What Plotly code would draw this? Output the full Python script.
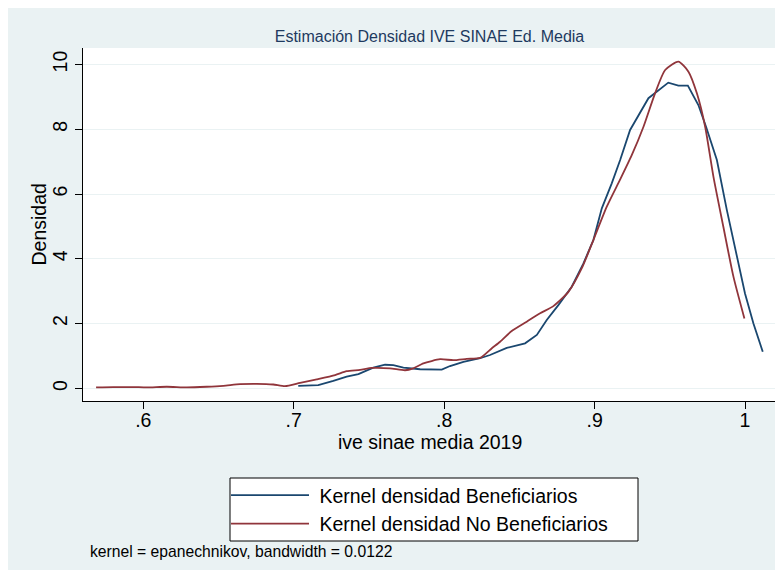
import plotly.graph_objects as go

# densities
benef_x = [0.703, 0.7163, 0.7263, 0.7352, 0.743, 0.7529, 0.7607, 0.7662, 0.7729, 0.784,
           0.7984, 0.8039, 0.8128, 0.8239, 0.8305, 0.8416, 0.8538, 0.8616, 0.8682, 0.8759,
           0.8848, 0.8926, 0.8992, 0.9048, 0.9114, 0.917, 0.9236, 0.9358, 0.949, 0.9557,
           0.962, 0.969, 0.9741, 0.9813, 0.9879, 0.9946, 1.0, 1.0056, 1.0118]
benef_y = [0.08, 0.10, 0.23, 0.36, 0.44, 0.64, 0.73, 0.72, 0.64, 0.59,
           0.58, 0.69, 0.82, 0.93, 1.03, 1.25, 1.39, 1.65, 2.11, 2.57,
           3.14, 3.86, 4.58, 5.56, 6.33, 7.05, 7.98, 8.96, 9.44, 9.35,
           9.35, 8.75, 8.08, 7.05, 5.51, 4.07, 2.93, 2.0, 1.13]

nobenef_x = [0.5686, 0.58, 0.5934, 0.6023, 0.6156, 0.6289, 0.6422, 0.6532, 0.6643, 0.6754,
             0.6864, 0.6942, 0.7042, 0.7153, 0.7275, 0.7352, 0.7441, 0.7519, 0.764, 0.774,
             0.7795, 0.7862, 0.7973, 0.8061, 0.815, 0.8239, 0.8317, 0.8372, 0.8449, 0.8549,
             0.8638, 0.8726, 0.8826, 0.8915, 0.8992, 0.9081, 0.917, 0.9247, 0.9325, 0.9402,
             0.9469, 0.9557, 0.9624, 0.968, 0.9735, 0.979, 0.9856, 0.9923, 0.9996]
nobenef_y = [0.03, 0.04, 0.04, 0.03, 0.05, 0.03, 0.05, 0.08, 0.13, 0.14,
             0.12, 0.07, 0.17, 0.28, 0.41, 0.53, 0.57, 0.63, 0.62, 0.56,
             0.62, 0.77, 0.90, 0.87, 0.91, 0.94, 1.24, 1.44, 1.77, 2.06,
             2.32, 2.54, 2.98, 3.71, 4.58, 5.61, 6.45, 7.2, 8.08, 9.11,
             9.83, 10.09, 9.78, 9.11, 8.08, 6.54, 4.99, 3.45, 2.16]

x_ticks = [0.6, 0.7, 0.8, 0.9, 1.0]
x_ticklabels = [".6", ".7", ".8", ".9", "1"]
y_ticks = [0, 2, 4, 6, 8, 10]

BLUE = "#1a476f"
RED = "#90353b"
BG = "#eaf2f3"
FONT = "Liberation Sans, Arial, sans-serif"

# the page body adds an 8px offset, so the figure is laid out 8px up/left
PW, PH = 693, 353          # plot area size in px
L, T = 75, 40              # plot area top-left inside the figure


def px_x(x):  # page px -> paper x
    return (x - 8 - L) / PW


def px_y(y):  # page px -> paper y
    return (T + PH - (y - 8)) / PH


fig = go.Figure()
fig.add_trace(go.Scatter(x=benef_x, y=benef_y, mode="lines",
                         name=" Kernel densidad Beneficiarios",
                         line=dict(color=BLUE, width=1.8)))
fig.add_trace(go.Scatter(x=nobenef_x, y=nobenef_y, mode="lines",
                         name=" Kernel densidad No Beneficiarios",
                         line=dict(color=RED, width=1.8, shape="spline", smoothing=0.6)))

# stata style background: grey frame, white plot region, legend box
fig.add_shape(type="rect", xref="paper", yref="paper", x0=px_x(5), x1=px_x(780), y0=px_y(570), y1=px_y(6),
              fillcolor=BG, line=dict(width=0), layer="below")
fig.add_shape(type="rect", xref="paper", yref="paper", x0=0, x1=1, y0=0, y1=1,
              fillcolor="white", line=dict(width=0), layer="below")
fig.add_shape(type="rect", xref="paper", yref="paper", x0=px_x(230), x1=px_x(638), y0=px_y(541), y1=px_y(478),
              fillcolor="white", line=dict(width=1, color="black"), layer="below")

fig.update_layout(
    width=783, height=575,
    margin=dict(l=L, r=783 - L - PW, t=T, b=575 - T - PH),
    paper_bgcolor="white",
    plot_bgcolor="rgba(0,0,0,0)",
    font=dict(family=FONT, color="black", size=19.5),
    showlegend=True,
    legend=dict(x=px_x(226), y=px_y(509.5), xanchor="left", yanchor="middle",
                bgcolor="rgba(0,0,0,0)", borderwidth=0,
                font=dict(size=19.5), itemwidth=78, tracegroupgap=0),
    title=dict(text="Estimación Densidad IVE SINAE Ed. Media", x=0.5, xanchor="center",
               xref="paper", y=1 - 28 / 575, yanchor="middle",
               font=dict(size=16, color="#1e3a5f")),
)

fig.update_xaxes(range=[0.5599, 1.0206], tickvals=x_ticks, ticktext=x_ticklabels, automargin=False,
                 showgrid=False, zeroline=False, showline=True, linecolor="black", linewidth=1,
                 ticks="outside", ticklen=7, tickcolor="black", tickfont=dict(size=19.5),
                 ticklabelstandoff=-5)
fig.update_yaxes(range=[-0.39, 10.51], tickvals=y_ticks, tickangle=-90, automargin=False,
                 showgrid=True, gridcolor=BG, gridwidth=1.2, zeroline=False,
                 showline=True, linecolor="black", linewidth=1,
                 ticks="outside", ticklen=7, tickcolor="black", tickfont=dict(size=19.5))

# axis titles
fig.add_annotation(text="ive sinae media 2019", xref="paper", yref="paper",
                   x=0.5, y=px_y(442), xanchor="center", yanchor="middle",
                   showarrow=False, font=dict(size=19.5))
fig.add_annotation(text="Densidad", xref="paper", yref="paper", textangle=-90,
                   x=px_x(38), y=0.5, xanchor="center", yanchor="middle",
                   showarrow=False, font=dict(size=19.5))

fig.add_annotation(text="kernel = epanechnikov, bandwidth = 0.0122", xref="paper", yref="paper",
                   x=px_x(88), y=px_y(551), xanchor="left", yanchor="middle",
                   showarrow=False, font=dict(size=15.7, color="black"))
# cut-off caption letter at the very top-left
fig.add_annotation(text="<b>g</b>", xref="paper", yref="paper",
                   x=px_x(0), y=px_y(-14), xanchor="left", yanchor="middle",
                   showarrow=False, font=dict(size=24, color="black"))

fig.write_html("out.html")
